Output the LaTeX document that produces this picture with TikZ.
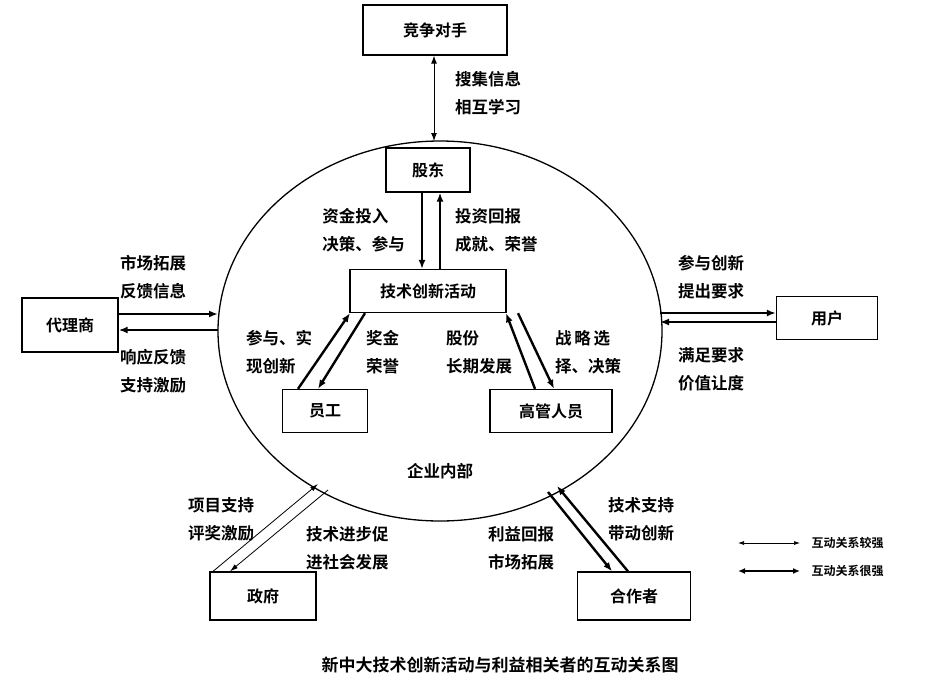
\documentclass[tikz,border=0pt]{standalone}
\usepackage{fontspec}
\setmainfont{Noto Sans CJK SC}[BoldFont={Noto Sans CJK SC Bold}]
\usetikzlibrary{arrows.meta}
\begin{document}
\begin{tikzpicture}[x=1pt,y=-1pt,
  bx/.style={draw,line width=1.3pt,minimum width=#1,minimum height=44pt,inner sep=0pt,font=\bfseries\fontsize{16}{16}\selectfont},
  bx/.default=90pt,
  lb/.style={font=\bfseries\fontsize{16.5}{28}\selectfont,align=left,inner sep=0pt},
  thick arr/.style={line width=2.4pt,-{Latex[length=9pt,width=7pt]}},
  thin arr/.style={line width=0.8pt,-{Latex[length=8pt,width=5pt]}}]
\useasboundingbox (0,0) rectangle (928,686);
\draw[line width=1.3pt] (440,331) ellipse [x radius=222pt, y radius=190pt];
\node[bx=144pt,minimum height=50pt] (comp) at (435,30) {竞争对手};
\node[bx=84pt] (gd) at (428,170) {股东};
\node[bx=156pt,minimum height=43pt] (js) at (428,291) {技术创新活动};
\node[bx=96pt,minimum height=54pt] (dl) at (70,325) {代理商};
\node[bx=101pt,minimum height=43pt] (yh) at (827,318) {用户};
\node[bx=85pt,minimum height=43pt] (yg) at (325,411) {员工};
\node[bx=122pt,minimum height=43pt] (gg) at (551,411) {高管人员};
\node[bx=106pt,minimum height=48pt] (zf) at (263,596) {政府};
\node[bx=113pt,minimum height=48pt] (hz) at (634,596) {合作者};
\coordinate (ctop) at (434,141);
\coordinate (cl1) at (218,314); \coordinate (cl2) at (218,330);
\coordinate (cr1) at (660,313); \coordinate (cr2) at (660,322);
\coordinate (cz1) at (318,484); \coordinate (cz2) at (328,490);
\coordinate (ch1) at (548,492); \coordinate (ch2) at (557,486);
% arrows
\draw[line width=1pt,{Latex[length=8pt,width=6pt]}-{Latex[length=8pt,width=6pt]}] (comp.south -| ctop) -- (ctop);
\draw[thick arr] ([xshift=-6pt]gd.south) -- ([xshift=-6pt]js.north);
\draw[thick arr] ([xshift=12pt]js.north) -- ([xshift=12pt]gd.south);
\draw[thick arr] (dl.east |- cl1) -- (cl1);
\draw[thick arr] (cl2) -- (dl.east |- cl2);
\draw[thick arr] (cr1) -- (yh.west |- cr1);
\draw[thick arr] (yh.west |- cr2) -- (cr2);
\draw[thick arr] ([xshift=-27pt]yg.north) -- ([xshift=-78pt]js.south);
\draw[thick arr] ([xshift=-63pt]js.south) -- ([xshift=-7pt]yg.north);
\draw[thick arr] ([xshift=90pt]js.south) -- ([xshift=3pt]gg.north);
\draw[thick arr] ([xshift=-16pt]gg.north) -- ([xshift=78pt]js.south);
\draw[thin arr] ([xshift=-50pt]zf.north) -- (cz1);
\draw[thin arr] (cz2) -- ([xshift=-33pt]zf.north);
\draw[thick arr] (ch1) -- ([xshift=-22pt]hz.north);
\draw[thick arr] ([xshift=-6pt]hz.north) -- (ch2);
% labels
\node[lb,anchor=west] (l1) at (455,93) {搜集信息\\相互学习};
\node[lb,anchor=east] (l2) at (405,230) {资金投入\\决策、参与};
\node[lb,anchor=west] (l3) at (455,230) {投资回报\\成就、荣誉};
\node[lb,anchor=west] (l4) at (120,277) {市场拓展\\反馈信息};
\node[lb,anchor=west] (l5) at (120,371) {响应反馈\\支持激励};
\node[lb,anchor=west] (l6) at (678,277) {参与创新\\提出要求};
\node[lb,anchor=west] (l7) at (678,369) {满足要求\\价值让度};
\node[lb,anchor=west] (l8) at (246,352) {参与、实\\现创新};
\node[lb,anchor=west] (l9) at (366,352) {奖金\\荣誉};
\node[lb,anchor=west] (l10) at (446,352) {股份\\长期发展};
\node[lb,anchor=west] (l11) at (555,352) {战\,略\,选\\择、决策};
\node[lb] (l12) at (440,471) {企业内部};
\node[lb,anchor=west] (l13) at (188,519) {项目支持\\评奖激励};
\node[lb,anchor=west] (l14) at (306,548) {技术进步促\\进社会发展};
\node[lb,anchor=west] (l15) at (488,548) {利益回报\\市场拓展};
\node[lb,anchor=west] (l16) at (608,519) {技术支持\\带动创新};
% legend
\coordinate (g1a) at (738,543); \coordinate (g1b) at (800,543);
\coordinate (g2a) at (738,571); \coordinate (g2b) at (800,571);
\draw[line width=0.7pt,{Latex[length=6pt,width=4pt]}-{Latex[length=6pt,width=4pt]}] (g1a) -- (g1b);
\draw[line width=2pt,{Latex[length=7pt,width=6pt]}-{Latex[length=7pt,width=6pt]}] (g2a) -- (g2b);
\node[anchor=west,font=\bfseries\fontsize{12}{12}\selectfont] (lg1) at (808,543) {互动关系较强};
\node[anchor=west,font=\bfseries\fontsize{12}{12}\selectfont] (lg2) at (808,571) {互动关系很强};
\node[font=\bfseries\fontsize{17}{17}\selectfont] (title) at (500,665) {新中大技术创新活动与利益相关者的互动关系图};
\end{tikzpicture}
\end{document}
